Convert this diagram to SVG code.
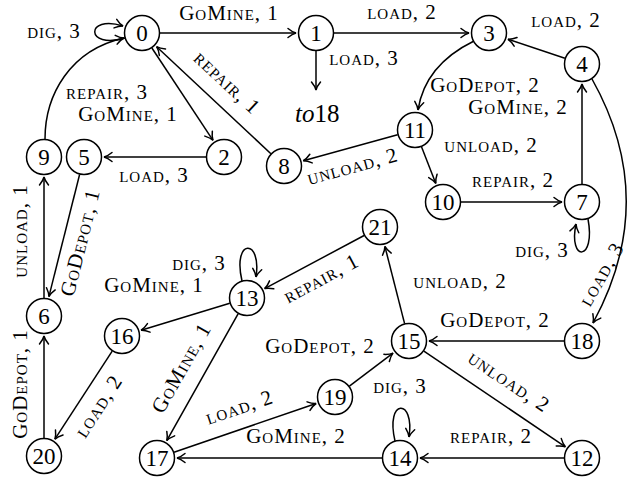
<svg xmlns="http://www.w3.org/2000/svg" width="632" height="483" viewBox="0 0 632 483">
<defs>
<style>
.node circle{fill:#fff;stroke:#000;stroke-width:1.5}
.node text{font-family:"Liberation Serif","DejaVu Serif","Times New Roman",serif;font-size:23px;text-anchor:middle}
.edge{fill:none;stroke:#000;stroke-width:1.5;marker-end:url(#arr)}
.lbl{font-family:"Liberation Serif","DejaVu Serif","Times New Roman",serif;font-size:21px;letter-spacing:1px;font-variant:small-caps;text-anchor:middle}
</style>
<marker id="arr" viewBox="-10 -6 12 12" refX="0" refY="0" markerWidth="12" markerHeight="12" markerUnits="userSpaceOnUse" orient="auto">
<path d="M-8,-4.5 C-5,-2 -2,-0.5 0,0 C-2,0.5 -5,2 -8,4.5" fill="none" stroke="#000" stroke-width="1.5" stroke-linecap="round"/>
</marker>
</defs>
<rect width="632" height="483" fill="#fff"/>
<g id="connectors">
<path class="edge" d="M160,33 L296,33"/>
<path class="edge" d="M334,33 L469,33"/>
<path class="edge" d="M316,51 L316,90"/>
<path class="edge" d="M564.9,58.3 L508,39.3"/>
<path class="edge" d="M582,184 L582,84"/>
<path class="edge" d="M397.6,134.8 L303.3,160.7"/>
<path class="edge" d="M421.5,146.8 L435.8,183.4"/>
<path class="edge" d="M461,202 L562,202"/>
<path class="edge" d="M270.9,153.7 L156.6,46.7"/>
<path class="edge" d="M151.9,48 L213,140.3"/>
<path class="edge" d="M206,157 L104,157"/>
<path class="edge" d="M44,298 L44,177"/>
<path class="edge" d="M79.6,174.5 L48.9,296.6"/>
<path class="edge" d="M44,438 L44,336"/>
<path class="edge" d="M112.2,351.1 L54.9,439.2"/>
<path class="edge" d="M229.8,303.2 L141.1,330.2"/>
<path class="edge" d="M238.2,313.7 L166.8,440.6"/>
<path class="edge" d="M364.1,235.5 L264.6,288.6"/>
<path class="edge" d="M404.6,323.6 L384.9,246.4"/>
<path class="edge" d="M564,341 L429,341"/>
<path class="edge" d="M349.4,386.1 L393,353.1"/>
<path class="edge" d="M423.9,351.1 L565.4,446.8"/>
<path class="edge" d="M564,458 L420,458"/>
<path class="edge" d="M382,458 L177,458"/>
<path class="edge" d="M174,452.2 L316.1,403.5"/>
<path class="edge" d="M474,41 Q425,65 418,110"/>
<path class="edge" d="M592,79 Q660,200 593,323"/>
<path class="edge" d="M45,139 C45,95 70,50 124,38"/>
<path class="edge" d="M125,38 C85,50 85,14 123,26"/>
<path class="edge" d="M588,219 C596,262 568,262 576,224"/>
<path class="edge" d="M242,281 C232,238 262,238 256,277"/>
<path class="edge" d="M395,441 C385,398 415,398 409,437"/>
</g>
<g id="edge-labels">
<text class="lbl" x="229" y="20">GoMine, 1</text>
<text class="lbl" x="402" y="19">load, 2</text>
<text class="lbl" x="364" y="65">load, 3</text>
<text class="lbl" x="566" y="27">load, 2</text>
<text class="lbl" x="54" y="38">dig, 3</text>
<text class="lbl" transform="translate(226,84) rotate(43)" y="5">repair, 1</text>
<text class="lbl" x="107" y="99">repair, 3</text>
<text class="lbl" x="128" y="121">GoMine, 1</text>
<text class="lbl" x="154" y="182">load, 3</text>
<text class="lbl" x="485" y="92">GoDepot, 2</text>
<text class="lbl" x="518" y="114">GoMine, 2</text>
<text class="lbl" x="491" y="152">unload, 2</text>
<text class="lbl" transform="translate(353,168) rotate(-15)" y="5">unload, 2</text>
<text class="lbl" x="513" y="187">repair, 2</text>
<text class="lbl" x="542" y="257">dig, 3</text>
<text class="lbl" transform="translate(603,275) rotate(-60)" y="5">load, 3</text>
<text class="lbl" transform="translate(22,231) rotate(-90)" y="5">unload, 1</text>
<text class="lbl" transform="translate(82,243) rotate(-76)" y="5">GoDepot, 1</text>
<text class="lbl" x="199" y="270">dig, 3</text>
<text class="lbl" x="154" y="292">GoMine, 1</text>
<text class="lbl" transform="translate(322,280) rotate(-28)" y="5">repair, 1</text>
<text class="lbl" x="460" y="288">unload, 2</text>
<text class="lbl" x="495" y="327">GoDepot, 2</text>
<text class="lbl" x="320" y="353">GoDepot, 2</text>
<text class="lbl" transform="translate(183,369) rotate(-60.5)" y="5">GoMine, 1</text>
<text class="lbl" transform="translate(22,384) rotate(-90)" y="5">GoDepot, 1</text>
<text class="lbl" transform="translate(100,407) rotate(-57)" y="5">load, 2</text>
<text class="lbl" transform="translate(240,409) rotate(-18.6)" y="5">load, 2</text>
<text class="lbl" x="296" y="443">GoMine, 2</text>
<text class="lbl" x="400" y="393">dig, 3</text>
<text class="lbl" transform="translate(508,383) rotate(33.7)" y="5">unload, 2</text>
<text class="lbl" x="491" y="443">repair, 2</text>
</g>
<g id="to18"><text x="295" y="122" font-family="'Liberation Serif','DejaVu Serif',serif" font-size="25"><tspan font-style="italic">to</tspan>18</text></g>
<g id="n0" class="node"><circle cx="142" cy="33" r="17.5"/><text x="142" y="41">0</text></g>
<g id="n1" class="node"><circle cx="316" cy="33" r="17.5"/><text x="316" y="41">1</text></g>
<g id="n3" class="node"><circle cx="489" cy="33" r="17.5"/><text x="489" y="41">3</text></g>
<g id="n4" class="node"><circle cx="582" cy="64" r="17.5"/><text x="582" y="72">4</text></g>
<g id="n2" class="node"><circle cx="224" cy="157" r="17.5"/><text x="224" y="165">2</text></g>
<g id="n5" class="node"><circle cx="84" cy="157" r="17.5"/><text x="84" y="165">5</text></g>
<g id="n9" class="node"><circle cx="44" cy="157" r="17.5"/><text x="44" y="165">9</text></g>
<g id="n8" class="node"><circle cx="284" cy="166" r="17.5"/><text x="284" y="174">8</text></g>
<g id="n11" class="node"><circle cx="415" cy="130" r="17.5"/><text x="415" y="138">11</text></g>
<g id="n10" class="node"><circle cx="443" cy="202" r="17.5"/><text x="443" y="210">10</text></g>
<g id="n7" class="node"><circle cx="582" cy="202" r="17.5"/><text x="582" y="210">7</text></g>
<g id="n21" class="node"><circle cx="380" cy="227" r="17.5"/><text x="380" y="235">21</text></g>
<g id="n13" class="node"><circle cx="247" cy="298" r="17.5"/><text x="247" y="306">13</text></g>
<g id="n6" class="node"><circle cx="44" cy="316" r="17.5"/><text x="44" y="324">6</text></g>
<g id="n16" class="node"><circle cx="122" cy="336" r="17.5"/><text x="122" y="344">16</text></g>
<g id="n15" class="node"><circle cx="409" cy="341" r="17.5"/><text x="409" y="349">15</text></g>
<g id="n18" class="node"><circle cx="582" cy="341" r="17.5"/><text x="582" y="349">18</text></g>
<g id="n19" class="node"><circle cx="335" cy="397" r="17.5"/><text x="335" y="405">19</text></g>
<g id="n20" class="node"><circle cx="44" cy="456" r="17.5"/><text x="44" y="464">20</text></g>
<g id="n17" class="node"><circle cx="157" cy="458" r="17.5"/><text x="157" y="466">17</text></g>
<g id="n14" class="node"><circle cx="400" cy="458" r="17.5"/><text x="400" y="466">14</text></g>
<g id="n12" class="node"><circle cx="582" cy="458" r="17.5"/><text x="582" y="466">12</text></g>
</svg>
